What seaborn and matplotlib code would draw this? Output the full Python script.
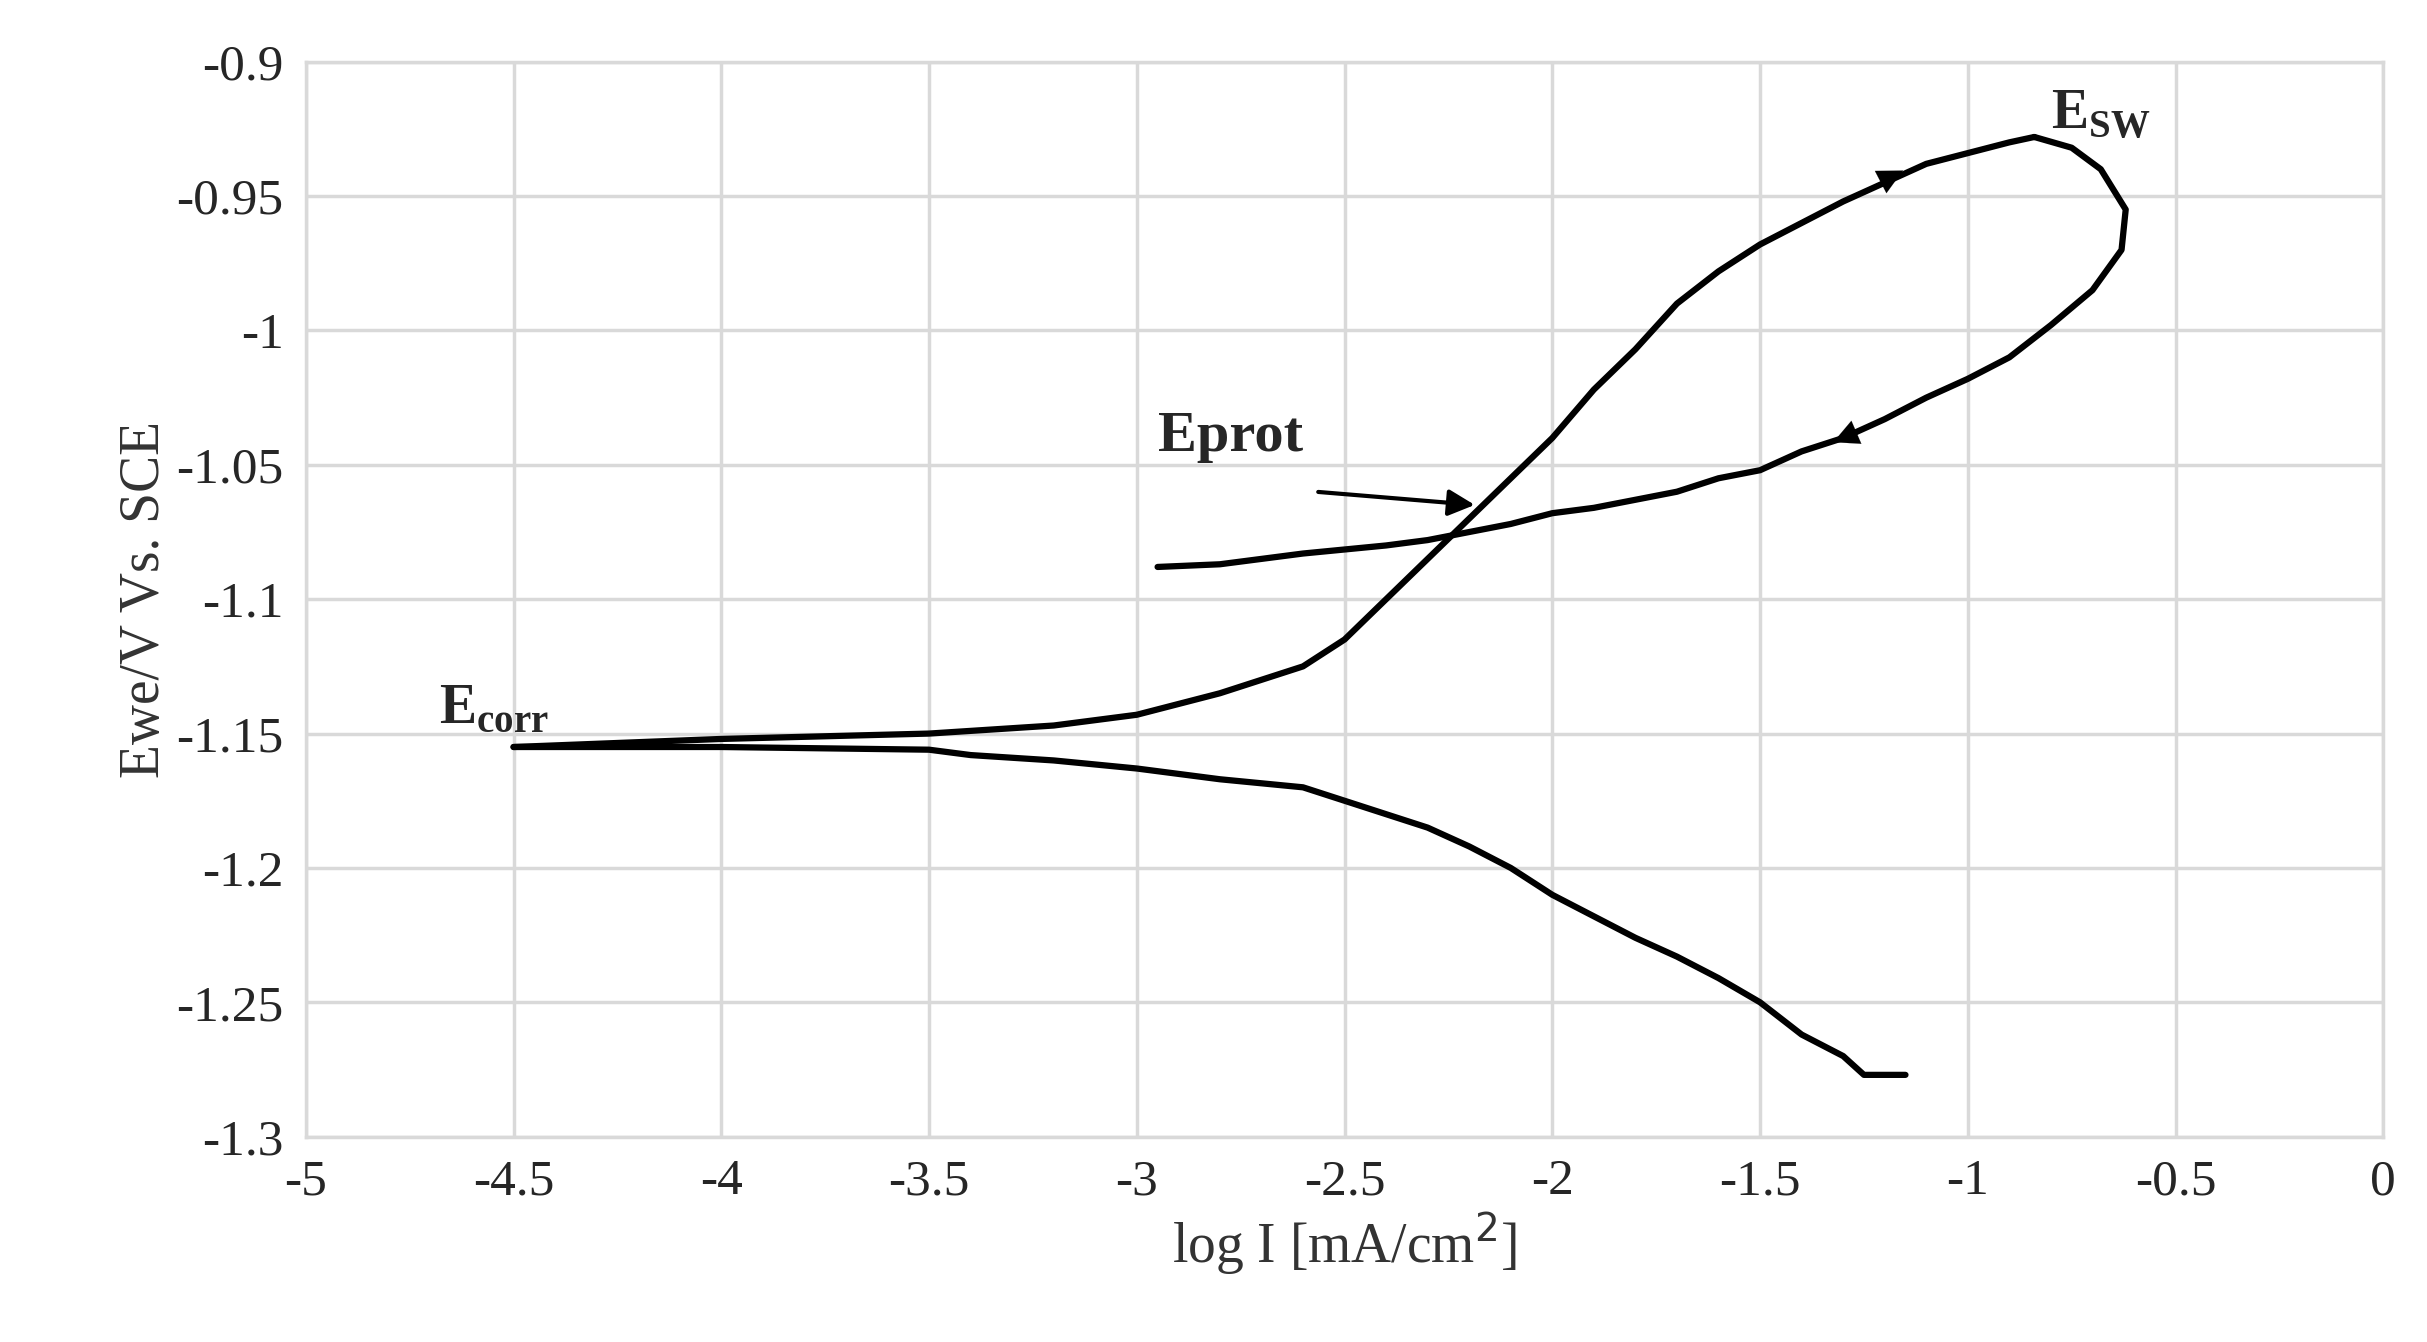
import matplotlib
matplotlib.use("Agg")
import matplotlib.pyplot as plt
import seaborn as sns
import pandas as pd

# cathodic branch (forward scan start)
cath_x = [-1.15,-1.25,-1.3,-1.4,-1.5,-1.6,-1.7,-1.8,-1.9,-2.0,-2.1,-2.2,-2.3,-2.4,-2.5,-2.6,-2.8,-3.0,-3.2,-3.4,-3.5,-4.0,-4.5]
cath_y = [-1.277,-1.277,-1.27,-1.262,-1.25,-1.241,-1.233,-1.226,-1.218,-1.21,-1.2,-1.192,-1.185,-1.18,-1.175,-1.17,-1.167,-1.163,-1.16,-1.158,-1.156,-1.155,-1.155]
# anodic forward scan
anod_x = [-4.5,-4.0,-3.5,-3.2,-3.0,-2.8,-2.6,-2.5,-2.4,-2.3,-2.2,-2.1,-2.0,-1.9,-1.8,-1.7,-1.6,-1.5,-1.4,-1.3,-1.2,-1.1,-1.0,-0.9,-0.84]
anod_y = [-1.155,-1.152,-1.15,-1.147,-1.143,-1.135,-1.125,-1.115,-1.1,-1.085,-1.07,-1.055,-1.04,-1.022,-1.007,-0.99,-0.978,-0.968,-0.96,-0.952,-0.945,-0.938,-0.934,-0.93,-0.928]
# reverse scan
rev_x = [-0.84,-0.75,-0.68,-0.62,-0.63,-0.7,-0.8,-0.9,-1.0,-1.1,-1.2,-1.3,-1.4,-1.5,-1.6,-1.7,-1.8,-1.9,-2.0,-2.1,-2.2,-2.3,-2.4,-2.6,-2.8,-2.95]
rev_y = [-0.928,-0.932,-0.94,-0.955,-0.97,-0.985,-0.998,-1.01,-1.018,-1.025,-1.033,-1.04,-1.045,-1.052,-1.055,-1.06,-1.063,-1.066,-1.068,-1.072,-1.075,-1.078,-1.08,-1.083,-1.087,-1.088]

sns.set_style("white")
plt.rcParams['font.family'] = ['Liberation Serif', 'DejaVu Serif']

fig = plt.figure(figsize=(24.27, 13.42), dpi=100)
ax = fig.add_axes([0.126, 0.153, 0.856, 0.801])

for xs, ys in [(cath_x, cath_y), (anod_x, anod_y), (rev_x, rev_y)]:
    df = pd.DataFrame({"x": xs, "y": ys})
    sns.lineplot(data=df, x="x", y="y", sort=False, color="black", lw=4.5, ax=ax, estimator=None)

ax.set_xlim(-5, 0)
ax.set_ylim(-1.3, -0.9)
ax.set_xticks([-5,-4.5,-4,-3.5,-3,-2.5,-2,-1.5,-1,-0.5,0])
ax.set_xticklabels(["-5","-4.5","-4","-3.5","-3","-2.5","-2","-1.5","-1","-0.5","0"])
ax.set_yticks([-1.3,-1.25,-1.2,-1.15,-1.1,-1.05,-1,-0.95,-0.9])
ax.set_yticklabels(["-1.3","-1.25","-1.2","-1.15","-1.1","-1.05","-1","-0.95","-0.9"])
ax.tick_params(labelsize=37, length=0, pad=16)
ax.grid(True, color="#d9d9d9", lw=2.5)
for s in ax.spines.values():
    s.set_color("#d9d9d9"); s.set_linewidth(2.5)
ax.set_xlabel("log I [mA/cm$^2$]", fontsize=40, color="#333333")
ax.set_ylabel("Ewe/V Vs. SCE", fontsize=40, color="#333333")

ax.text(-4.68, -1.146, r"E$_{\mathregular{corr}}$", fontsize=40, fontweight="bold")
ax.text(-0.8, -0.925, r"E$_{\mathregular{SW}}$", fontsize=40, fontweight="bold")
ax.text(-2.95, -1.045, "Eprot", fontsize=42, fontweight="bold")
ax.annotate("", xy=(-2.18, -1.065), xytext=(-2.57, -1.06),
            arrowprops=dict(arrowstyle="-|>", color="black", lw=3, mutation_scale=40))
ax.annotate("", xy=(-1.15, -0.94), xytext=(-1.3, -0.952),
            arrowprops=dict(arrowstyle="-|>", color="black", lw=0.1, mutation_scale=45))
ax.annotate("", xy=(-1.33, -1.042), xytext=(-1.15, -1.03),
            arrowprops=dict(arrowstyle="-|>", color="black", lw=0.1, mutation_scale=45))

fig.savefig("out.png", dpi=100)
